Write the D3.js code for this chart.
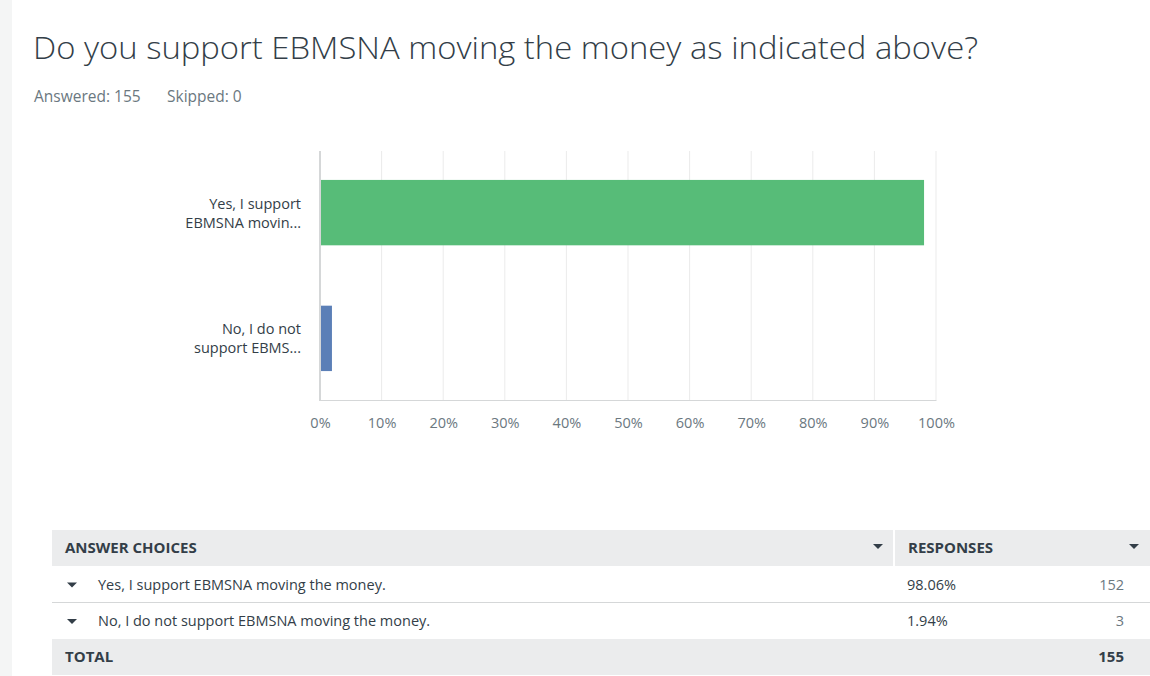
<!DOCTYPE html>
<html>
<head>
<meta charset="utf-8">
<script src="https://cdn.jsdelivr.net/npm/d3@7"></script>
<style>
  body { margin: 0; background: #fff; }
  svg { display: block; font-family: "Open Sans", sans-serif; }
</style>
</head>
<body>
<script>
  const question = 'Do you support EBMSNA moving the money as indicated above?';
  const answered = 155;
  const skipped = 0;

  const choices = [
    'Yes, I support EBMSNA moving the money.',
    'No, I do not support EBMSNA moving the money.',
  ];
  const shortLabels = [
    ['Yes, I support', 'EBMSNA movin...'],
    ['No, I do not', 'support EBMS...'],
  ];
  const percents = [98.06, 1.94];
  const counts = [152, 3];
  const total = 155;
  const ticks = [0, 10, 20, 30, 40, 50, 60, 70, 80, 90, 100];
  const colors = ['#57bc78', '#5b7fb7'];

  const width = 1150;
  const height = 676;
  const textDark = '#333e48';
  const textGray = '#6b787f';

  const svg = d3.select('body')
    .append('svg')
    .attr('width', width)
    .attr('height', height);

  // left grey strip of the page
  svg.append('rect')
    .attr('width', 12).attr('height', height)
    .attr('fill', '#f4f5f5');

  svg.append('text')
    .attr('x', 33).attr('y', 59)
    .attr('font-size', 31)
    .attr('font-weight', 300)
    .attr('fill', textDark)
    .attr('textLength', 945)
    .attr('lengthAdjust', 'spacingAndGlyphs')
    .text(question);

  svg.append('text')
    .attr('x', 34).attr('y', 102)
    .attr('font-size', 15.5)
    .attr('fill', textGray)
    .text(`Answered: ${answered}`);

  svg.append('text')
    .attr('x', 167).attr('y', 102)
    .attr('font-size', 15.5)
    .attr('fill', textGray)
    .text(`Skipped: ${skipped}`);

  // bar chart
  const xScale = d3.scaleLinear()
    .domain([0, 100])
    .range([320, 936]);

  const yScale = d3.scaleBand()
    .domain(d3.range(choices.length))
    .range([151, 400])
    .paddingInner(0.48)
    .paddingOuter(0.23);

  const chart = svg.append('g');

  chart.append('g')
    .selectAll('line')
    .data(ticks.slice(1))
    .join('line')
    .attr('x1', (d) => xScale(d))
    .attr('x2', (d) => xScale(d))
    .attr('y1', 151)
    .attr('y2', 400)
    .attr('stroke', '#ebebeb')
    .attr('stroke-width', 1);

  chart.selectAll('rect.bar')
    .data(percents)
    .join('rect')
    .attr('class', 'bar')
    .attr('x', xScale(0))
    .attr('y', (d, i) => yScale(i))
    .attr('width', (d) => xScale(d) - xScale(0))
    .attr('height', yScale.bandwidth())
    .attr('fill', (d, i) => colors[i]);

  const xAxis = chart.append('g')
    .attr('transform', 'translate(0, 400)')
    .call(d3.axisBottom(xScale)
      .tickValues(ticks)
      .tickSize(0)
      .tickPadding(18)
      .tickFormat((d) => d + '%'));
  xAxis.select('.domain').attr('stroke', '#d5d7d8');
  xAxis.selectAll('text')
    .attr('font-size', 14.5)
    .attr('font-family', '"Open Sans", sans-serif')
    .attr('fill', textGray);

  chart.append('line')
    .attr('x1', xScale(0)).attr('x2', xScale(0))
    .attr('y1', 151).attr('y2', 401)
    .attr('stroke', '#d5d7d8')
    .attr('stroke-width', 2);

  chart.selectAll('text.cat')
    .data(shortLabels)
    .join('text')
    .attr('class', 'cat')
    .attr('text-anchor', 'end')
    .attr('font-size', 14.5)
    .attr('fill', textDark)
    .each(function (lines, i) {
      const cy = yScale(i) + yScale.bandwidth() / 2;
      d3.select(this).selectAll('tspan')
        .data(lines)
        .join('tspan')
        .attr('x', 301)
        .attr('y', (d, j) => cy - 4 + j * 19)
        .text((d) => d);
    });

  // table
  const tableX = 52;
  const colSplit = 894;
  const rowTops = [530, 566, 603, 639];
  const rowH = [36, 37, 36, 36];

  const table = svg.append('g');

  table.append('rect')
    .attr('x', tableX).attr('y', rowTops[0])
    .attr('width', width - tableX).attr('height', rowH[0])
    .attr('fill', '#ebeced');
  table.append('line')
    .attr('x1', colSplit).attr('x2', colSplit)
    .attr('y1', rowTops[0]).attr('y2', rowTops[0] + rowH[0])
    .attr('stroke', '#fff').attr('stroke-width', 2);
  table.append('rect')
    .attr('x', tableX).attr('y', rowTops[3])
    .attr('width', width - tableX).attr('height', rowH[3])
    .attr('fill', '#ebeced');
  table.append('line')
    .attr('x1', tableX).attr('x2', width)
    .attr('y1', rowTops[2] - 0.5).attr('y2', rowTops[2] - 0.5)
    .attr('stroke', '#d5d7d8').attr('stroke-width', 1);

  const caret = (g, x, y) => {
    g.append('path')
      .attr('d', `M${x - 5},${y - 3}L${x + 5},${y - 3}L${x},${y + 2}Z`)
      .attr('fill', textDark);
  };

  const headY = rowTops[0] + rowH[0] / 2 + 5;
  table.append('text')
    .attr('x', 65).attr('y', headY)
    .attr('font-size', 15).attr('font-weight', 'bold')
    .attr('fill', textDark)
    .text('ANSWER CHOICES');
  table.append('text')
    .attr('x', 908).attr('y', headY)
    .attr('font-size', 15).attr('font-weight', 'bold')
    .attr('fill', textDark)
    .text('RESPONSES');
  caret(table, 878, rowTops[0] + rowH[0] / 2 - 1);
  caret(table, 1134, rowTops[0] + rowH[0] / 2 - 1);

  choices.forEach((c, i) => {
    const top = rowTops[i + 1];
    const cy = top + rowH[i + 1] / 2;
    caret(table, 72, cy + 1);
    table.append('text')
      .attr('x', 98).attr('y', cy + 5)
      .attr('font-size', 14.5).attr('fill', textDark)
      .text(c);
    table.append('text')
      .attr('x', 907).attr('y', cy + 5)
      .attr('font-size', 14.5).attr('fill', textDark)
      .text(percents[i].toFixed(2) + '%');
    table.append('text')
      .attr('x', 1124).attr('y', cy + 5)
      .attr('text-anchor', 'end')
      .attr('font-size', 14.5).attr('fill', textGray)
      .text(counts[i]);
  });

  const totY = rowTops[3] + rowH[3] / 2 + 5;
  table.append('text')
    .attr('x', 65).attr('y', totY)
    .attr('font-size', 15).attr('font-weight', 'bold')
    .attr('fill', textDark)
    .text('TOTAL');
  table.append('text')
    .attr('x', 1124).attr('y', totY)
    .attr('text-anchor', 'end')
    .attr('font-size', 15).attr('font-weight', 'bold')
    .attr('fill', textDark)
    .text(total);
</script>
</body>
</html>
